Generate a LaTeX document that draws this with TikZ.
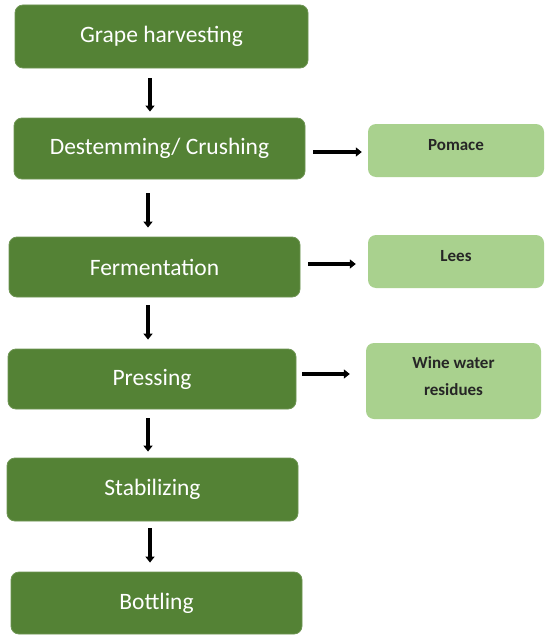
\documentclass[tikz,border=0pt]{standalone}
\usepackage{fontspec}
\setmainfont{Carlito}
\usetikzlibrary{arrows.meta}
\definecolor{dgreen}{HTML}{548235}
\definecolor{lgreen}{HTML}{A9D18E}
\begin{document}
\begin{tikzpicture}[x=1pt,y=1pt,
  mainbox/.style={rectangle,rounded corners=8pt,fill=dgreen,draw=dgreen!85!white,line width=0.8pt,text=white,font=\fontsize{23.5}{27}\selectfont,inner sep=0pt},
  sidebox/.style={rectangle,rounded corners=8pt,fill=lgreen,draw=none,inner sep=0pt},
  sidetext/.style={font=\fontsize{17}{20}\selectfont\bfseries,text=black!85,align=center,inner sep=0pt},
  arr/.style={line width=3.2pt,-{Triangle[length=6pt,width=9pt]}}]
\useasboundingbox (0,0) rectangle (550,-642);
\fill[white] (0,0) rectangle (550,-642);
\node[mainbox,minimum width=293pt,minimum height=63pt] (g1) at (161.5,-36.5) {Grape harvesting};
\node[mainbox,minimum width=291pt,minimum height=61pt] (g2) at (159.5,-148.5) {Destemming/ Crushing};
\node[mainbox,minimum width=291pt,minimum height=60pt] (g3) at (154.5,-267) {Fermentation};
\node[mainbox,minimum width=288pt,minimum height=60pt] (g4) at (152,-379) {Pressing};
\node[mainbox,minimum width=291pt,minimum height=63pt] (g5) at (152.5,-489.5) {Stabilizing};
\node[mainbox,minimum width=291pt,minimum height=62pt] (g6) at (156.5,-603) {Bottling};
\node[sidebox,minimum width=176pt,minimum height=53pt] (p) at (456,-150.5) {};
\node[sidetext] (pt) at (456,-145) {Pomace};
\node[sidebox,minimum width=176pt,minimum height=53pt] (l) at (456,-261.5) {};
\node[sidetext] (lt) at (456,-256) {Lees};
\node[sidebox,minimum width=175pt,minimum height=76pt] (w) at (453.5,-381) {};
\node[sidetext] (wt) at (453.5,-376.5) {Wine water\\[7pt]residues};
\draw[arr] ([xshift=-11.5pt,yshift=-10pt]g1.south) -- ([xshift=-9.5pt,yshift=6pt]g2.north);
\draw[arr] ([xshift=-11.5pt,yshift=-14pt]g2.south) -- ([xshift=-6.5pt,yshift=9pt]g3.north);
\draw[arr] ([xshift=-6.5pt,yshift=-8pt]g3.south) -- ([xshift=-4pt,yshift=9pt]g4.north);
\draw[arr] ([xshift=-4pt,yshift=-9pt]g4.south) -- ([xshift=-4.5pt,yshift=6pt]g5.north);
\draw[arr] ([xshift=-2.5pt,yshift=-7pt]g5.south) -- ([xshift=-6.5pt,yshift=9pt]g6.north);
\draw[arr] ([xshift=8pt,yshift=-3.5pt]g2.east) -- ([xshift=-6pt,yshift=-1.5pt]p.west);
\draw[arr] ([xshift=8pt,yshift=3pt]g3.east) -- ([xshift=-12pt,yshift=-2.5pt]l.west);
\draw[arr] ([xshift=6pt,yshift=5pt]g4.east) -- ([xshift=-16pt,yshift=7pt]w.west);
\end{tikzpicture}
\end{document}
